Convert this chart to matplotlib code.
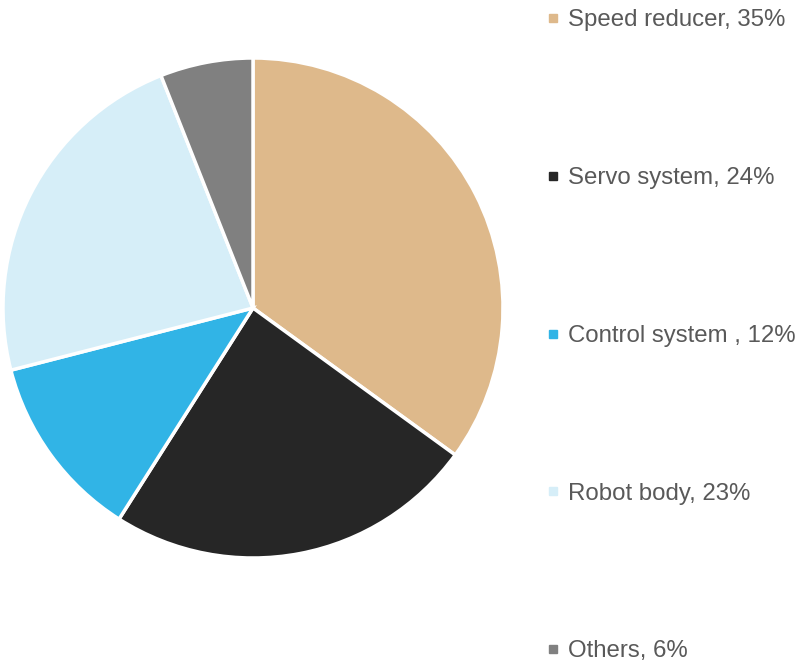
import matplotlib.pyplot as plt
from matplotlib.lines import Line2D

# Cost breakdown of an industrial robot
labels = ['Speed reducer', 'Servo system', 'Control system ', 'Robot body', 'Others']
shares = [35, 24, 12, 23, 6]
colors = ['#DEB98B', '#262626', '#31B4E6', '#D6EEF8', '#808080']

plt.rcParams['font.family'] = ['Liberation Sans', 'DejaVu Sans']

fig = plt.figure(figsize=(7.96, 6.65), dpi=100)
ax = fig.add_axes([3 / 796, 107 / 665, 500 / 796, 500 / 665])

ax.pie(shares, colors=colors, startangle=90, counterclock=False,
       wedgeprops=dict(edgecolor='white', linewidth=2.5))
ax.set_xlim(-1.0, 1.0)
ax.set_ylim(-1.0, 1.0)
ax.set_aspect('equal')

handles = [Line2D([0], [0], marker='s', linestyle='None', markersize=6,
                  markerfacecolor=c, markeredgecolor=c) for c in colors]
texts = [f'{l}, {v}%' for l, v in zip(labels, shares)]
leg = fig.legend(handles, texts, loc='upper left',
                 bbox_to_anchor=(545 / 796, 1.0 - 7 / 665),
                 frameon=False, fontsize=17.3, labelspacing=5.65, handlelength=0.5,
                 handletextpad=0.35, borderaxespad=0.0, borderpad=0.1)
for t in leg.get_texts():
    t.set_color('#595959')

fig.savefig('out.png', dpi=100)
